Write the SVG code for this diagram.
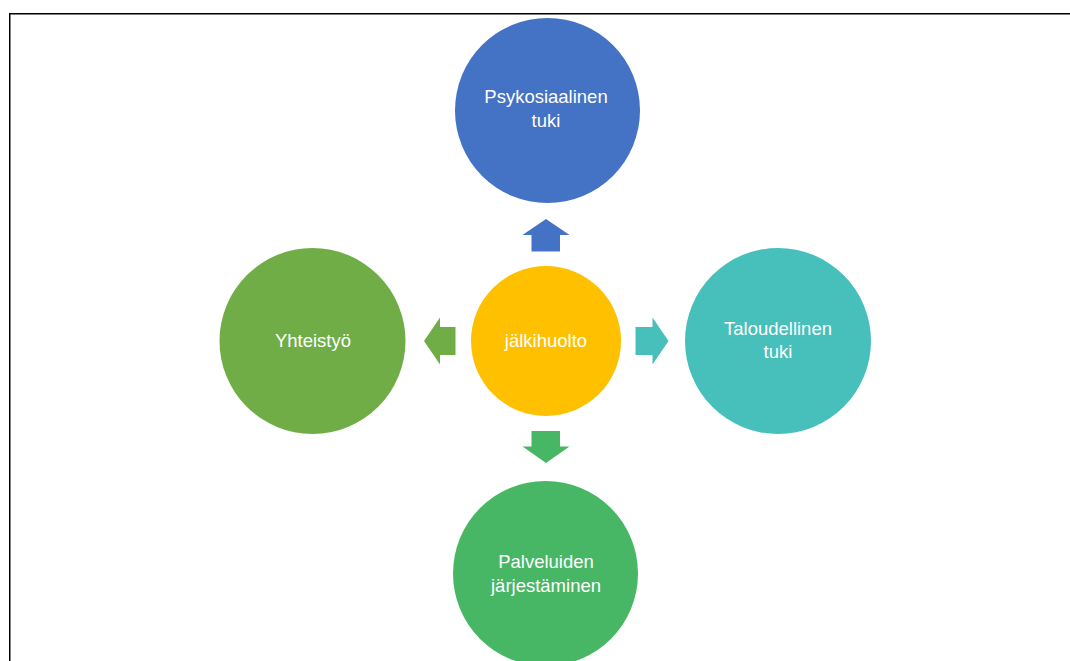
<svg xmlns="http://www.w3.org/2000/svg" width="1070" height="661" viewBox="0 0 1070 661">
<style>
  .lbl { font-family: "Liberation Sans", Arial, sans-serif; font-size: 18.5px; fill: #ffffff; text-anchor: middle; }
</style>
<rect x="0" y="0" width="1070" height="661" fill="#ffffff"/>
<rect x="9.75" y="13.75" width="1080" height="680" fill="none" stroke="#000000" stroke-width="1.5"/>
<g id="connectors">
  <polygon points="546,219 569.5,235 560,235 560,251.5 531.5,251.5 531.5,235 522.5,235" fill="#4472C4"/>
  <polygon points="424,341 440,317.5 440,327 455.5,327 455.5,355 440,355 440,364.5" fill="#70AD47"/>
  <polygon points="668.5,341 652.5,317.5 652.5,327 635.5,327 635.5,355 652.5,355 652.5,364.5" fill="#47BFBB"/>
  <polygon points="546,463 569.5,446.5 560,446.5 560,431 531.5,431 531.5,446.5 522.5,446.5" fill="#48B765"/>
</g>
<g id="center">
  <circle cx="546" cy="341" r="75" fill="#FFC000"/>
  <text class="lbl" x="546" y="347">jälkihuolto</text>
</g>
<g id="top">
  <circle cx="547.5" cy="110.5" r="92.5" fill="#4472C4"/>
  <text class="lbl" x="546" y="103">Psykosiaalinen</text>
  <text class="lbl" x="546" y="127">tuki</text>
</g>
<g id="left">
  <circle cx="312.5" cy="341" r="93" fill="#70AD47"/>
  <text class="lbl" x="313" y="347">Yhteistyö</text>
</g>
<g id="right">
  <circle cx="778" cy="341" r="93" fill="#47BFBB"/>
  <text class="lbl" x="778" y="335">Taloudellinen</text>
  <text class="lbl" x="778" y="358">tuki</text>
</g>
<g id="bottom">
  <circle cx="545.5" cy="573.5" r="92.5" fill="#48B765"/>
  <text class="lbl" x="546" y="568">Palveluiden</text>
  <text class="lbl" x="546" y="592">järjestäminen</text>
</g>
</svg>
